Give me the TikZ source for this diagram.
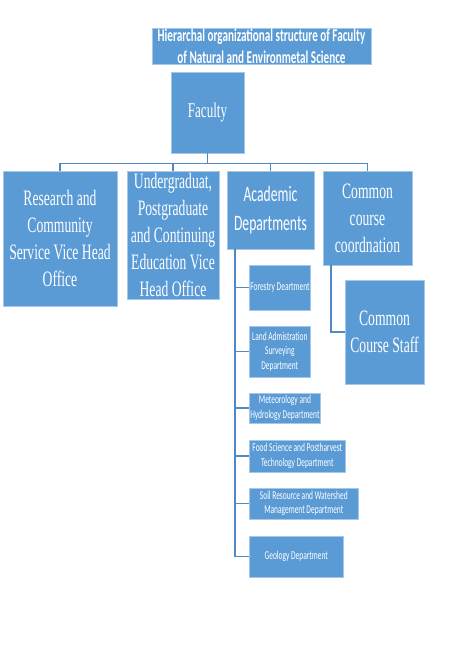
\documentclass[tikz,border=0pt]{standalone}
\usepackage{fontspec}
\usepackage{xcolor}
\usepackage{tikz}
\newfontfamily\serifnarrow[FakeStretch=0.62]{Liberation Serif}
\newfontfamily\sansnarrow[FakeStretch=0.62]{Carlito}
\definecolor{BoxBlue}{HTML}{5B9BD5}
\definecolor{LineBlue}{HTML}{5088C4}

\begin{document}
\begin{tikzpicture}[
            x=1pt, y=-1pt,
            box/.style={draw=BoxBlue!55!white, line width=0.6pt, fill=BoxBlue, text=white, align=center, inner sep=1pt},
            office/.style={box, font=\serifnarrow\fontsize{22}{27}\selectfont},
            dept/.style={box, anchor=west, font=\sansnarrow\fontsize{12}{14.5}\selectfont},
            link/.style={draw=LineBlue, line width=1.1pt}
        ]
            \useasboundingbox (0,0) rectangle (472,650);

            \node[box, minimum width=219pt, minimum height=36pt, font=\sansnarrow\bfseries\fontsize{18}{21.5}\selectfont] (title) at (261.5,46) {Hierarchal organizational structure of Faculty\\of Natural and Environmetal Science};

            \node[office, minimum width=73pt, minimum height=81pt, font=\serifnarrow\fontsize{21}{25}\selectfont] (faculty) at (207.5,112.5) {Faculty};

            \node[office, minimum width=114pt, minimum height=135pt] (research) at (60,238.5) {Research and\\Community\\Service Vice Head\\Office};
            \node[office, minimum width=92pt, minimum height=128pt] (study) at (173,235) {Undergraduat,\\Postgraduate\\and Continuing\\Education Vice\\Head Office};
            \node[box, minimum width=87pt, minimum height=78pt, font=\sansnarrow\fontsize{22}{29}\selectfont] (academic) at (270.5,210) {Academic\\Departments};
            \node[office, minimum width=89pt, minimum height=94pt] (common) at (367.5,218) {Common\\course\\coordnation};
            \node[office, minimum width=79pt, minimum height=104pt] (staff) at (384.5,332) {Common\\Course Staff};

            \node[dept, minimum width=61pt, minimum height=45pt] (forestry) at (249,287.5) {Forestry Deartment};
            \node[dept, minimum width=61pt, minimum height=51pt] (land) at (249,351.5) {Land Admistration\\Surveying\\Department};
            \node[dept, minimum width=70pt, minimum height=30pt] (meteo) at (249,408) {Meteorology and\\Hydrology Department};
            \node[dept, minimum width=96pt, minimum height=32pt] (food) at (249,456) {Food Science and Postharvest\\Technology Department};
            \node[dept, minimum width=109pt, minimum height=31pt] (soil) at (249,503.5) {Soil Resource and Watershed\\Management Department};
            \node[dept, minimum width=94pt, minimum height=41pt] (geology) at (249,556.5) {Geology Department};

            \coordinate (spine) at (235,249);
            \coordinate (ccline) at (331,265);

            \draw[link] (faculty.south) -- ++(0,10) -| (research.north);
            \draw[link] (faculty.south) -- ++(0,10) -| (study.north);
            \draw[link] (faculty.south) -- ++(0,10) -| (academic.north);
            \draw[link] (faculty.south) -- ++(0,10) -| (common.north);

            \draw[link] (spine) |- (forestry.west);
            \draw[link] (spine) |- (land.west);
            \draw[link] (spine) |- (meteo.west);
            \draw[link] (spine) |- (food.west);
            \draw[link] (spine) |- (soil.west);
            \draw[link] (spine) |- (geology.west);

            \draw[link] (ccline) |- (staff.west);
        \end{tikzpicture}
\end{document}
